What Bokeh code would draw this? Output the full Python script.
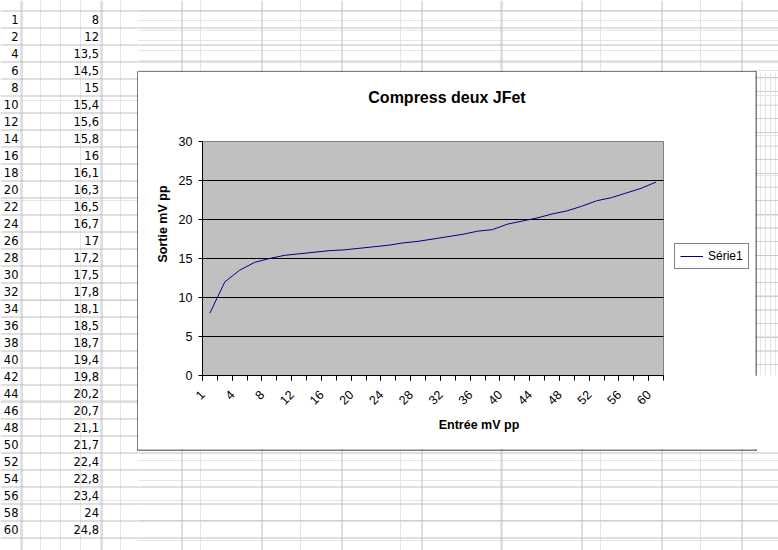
import math
from bokeh.plotting import figure
from bokeh.layouts import row, column
from bokeh.models import (Range1d, FixedTicker, Label, ColumnDataSource, Legend, LegendItem)
from bokeh.core.properties import value
from bokeh.embed import file_html
from bokeh.resources import INLINE

# ---- data (read from the sheet) ----
x_cats = [1, 2, 4, 6, 8, 10, 12, 14, 16, 18, 20, 22, 24, 26, 28, 30,
          32, 34, 36, 38, 40, 42, 44, 46, 48, 50, 52, 54, 56, 58, 60]
y_vals = [8, 12, 13.5, 14.5, 15, 15.4, 15.6, 15.8, 16, 16.1, 16.3, 16.5, 16.7, 17,
          17.2, 17.5, 17.8, 18.1, 18.5, 18.7, 19.4, 19.8, 20.2, 20.7, 21.1, 21.7,
          22.4, 22.8, 23.4, 24, 24.8]
y_ticks = [0, 5, 10, 15, 20, 25, 30]
y_grid_ticks = [5, 10, 15, 20, 25]
title_text = "Compress deux JFet"
x_title = "Entrée mV pp"
y_title = "Sortie mV pp"
series_name = "Série1"

# ---- layout constants (page pixels) ----
PW, PH = 778, 550
FL, FR, FT, FB = 202, 663, 141, 375          # plot area
BL, BR, BT, BB = 137, 756, 71, 450           # chart box (outer edge of border)
IL, IR, IT, IB = BL + 1, BR - 1, BT + 1, BB - 1   # chart box inside
ROW0, ROWH, NROWS = 10, 17, 33               # sheet rows
COL0, COLW, NCOLS = 21, 80, 10               # sheet columns
SHEET_GRID = "#c0c0c0"
FONT = "Liberation Sans"
n = len(x_cats)

# spreadsheet cell texts
cells = ColumnDataSource(dict(
    y=[ROW0 + ROWH * i + 9 for i in range(n)],
    a=[str(v) for v in x_cats],
    b=[("%g" % v).replace(".", ",") for v in y_vals],
    xa=[18] * n,
    xb=[98.5] * n,
))
hl = [ROW0 + ROWH * k for k in range(NROWS)]
vl = [COL0 + COLW * k for k in range(NCOLS)]


def sheet_piece(x0, x1, y0, y1, with_text=False):
    f = figure(width=x1 - x0, height=y1 - y0, x_range=Range1d(x0, x1), y_range=Range1d(y1, y0),
               min_border=0, toolbar_location=None, tools="", output_backend="svg",
               x_axis_location=None, y_axis_location=None, title_location=None)
    f.outline_line_color = None
    f.background_fill_color = "white"
    f.border_fill_color = "white"
    f.quad(left=[0] * len(hl), right=[PW] * len(hl), top=hl, bottom=[y + 1 for y in hl],
           fill_color=SHEET_GRID, line_color=None)
    f.quad(left=vl, right=[x + 1 for x in vl], top=[0] * len(vl), bottom=[PH] * len(vl),
           fill_color=SHEET_GRID, line_color=None)
    # black border of the chart object
    f.quad(left=[BL, IR, BL, BL], right=[IL, BR, BR, BR],
           top=[BT, BT, BT, IB], bottom=[BB, BB, IT, BB],
           fill_color="black", line_color=None)
    if with_text:
        for xc, tc in (("xa", "a"), ("xb", "b")):
            f.text(x=xc, y="y", text=tc, source=cells, text_align="right",
                   text_baseline="middle", text_font=value("DejaVu Sans"),
                   text_font_size="11.5px", text_color="black")
    return f


left_fig = sheet_piece(0, IL, 0, PH, with_text=True)
top_fig = sheet_piece(IL, PW, 0, IT)
right_fig = sheet_piece(IR, PW, IT, IB)
bottom_fig = sheet_piece(IL, PW, IB, PH)

# ---- the chart object ----
unit = (FR - FL) / n
x_end = 0.5 + (IR - FL) / unit
y_end = y_ticks[-1] * (FB - IT) / (FB - FT)

chart = figure(width=IR - IL, height=IB - IT, output_backend="svg", toolbar_location=None,
               tools="", title_location=None,
               x_range=Range1d(0.5, x_end), y_range=Range1d(0, y_end),
               min_border_left=FL - IL, min_border_right=0, min_border_top=0,
               min_border_bottom=IB - FB)
chart.extra_x_ranges = {"px": Range1d(FL, IR)}
chart.extra_y_ranges = {"py": Range1d(FB, IT)}
chart.outline_line_color = None
chart.background_fill_color = "white"
chart.border_fill_color = "white"

# plot area
chart.quad(left=[0.5], right=[n + 0.5], bottom=[y_ticks[0]], top=[y_ticks[-1]],
           fill_color="#c0c0c0", line_color="#808080", line_width=1, level="image")

# gridlines
chart.xgrid.visible = False
gr = chart.ygrid[0]
if "cross_bounds" in gr.properties():
    gr.ticker = FixedTicker(ticks=y_grid_ticks)
    gr.cross_bounds = (0.5, n + 0.5)
    gr.grid_line_color = "black"
    gr.grid_line_width = 1
else:
    gr.visible = False
    chart.segment(x0=[0.5] * len(y_grid_ticks), x1=[n + 0.5] * len(y_grid_ticks),
                  y0=y_grid_ticks, y1=y_grid_ticks, line_color="black", line_width=1)

# series line
src = ColumnDataSource(dict(x=[i + 1 for i in range(n)], y=y_vals))
r = chart.line("x", "y", source=src, line_color="#000080", line_width=1)

# title
chart.add_layout(Label(x=(BL + BR) / 2, y=97, text=title_text, x_range_name="px",
                       y_range_name="py", text_align="center", text_baseline="middle",
                       text_font=FONT, text_font_size="16px", text_font_style="bold",
                       text_color="black"))

# y axis
ya = chart.yaxis[0]
ya.bounds = (y_ticks[0], y_ticks[-1])
ya.ticker = FixedTicker(ticks=y_ticks)
ya.major_tick_out = 4
ya.major_tick_in = 0
ya.minor_tick_line_color = None
ya.major_label_standoff = 6
ya.axis_line_color = "black"
ya.major_tick_line_color = "black"
ya.major_label_text_font = FONT
ya.major_label_text_font_size = "12.5px"
ya.major_label_text_color = "black"
ya.axis_label = y_title
ya.axis_label_standoff = 6
ya.axis_label_text_font = FONT
ya.axis_label_text_font_size = "12.5px"
ya.axis_label_text_font_style = "bold"
ya.axis_label_text_color = "black"

# x axis (category axis, ticks between categories)
xa = chart.xaxis[0]
xa.bounds = (0.5, n + 0.5)
lab_idx = list(range(0, n, 2))
xa.ticker = FixedTicker(ticks=[i + 0.5 for i in lab_idx],
                        minor_ticks=[i + 0.5 for i in range(n + 1)])
xa.major_label_overrides = {i + 0.5: str(x_cats[i]) for i in lab_idx}
xa.major_label_orientation = math.pi / 4
xa.major_tick_out = 5
xa.major_tick_in = 0
xa.minor_tick_out = 5
xa.minor_tick_in = 0
xa.minor_tick_line_color = "black"
xa.major_tick_line_color = "black"
xa.axis_line_color = "black"
xa.major_label_standoff = 12
xa.major_label_text_font = FONT
xa.major_label_text_font_size = "12.5px"
xa.major_label_text_color = "black"
xa.axis_label = x_title
xa.axis_label_standoff = 6
xa.axis_label_text_font = FONT
xa.axis_label_text_font_size = "12.5px"
xa.axis_label_text_font_style = "bold"
xa.axis_label_text_color = "black"

# legend
legend = Legend(items=[LegendItem(label=series_name, renderers=[r])],
                location=(674 - FL, FB - 269), orientation="vertical",
                margin=0, padding=5, spacing=0,
                glyph_width=23, glyph_height=12, label_height=12, label_standoff=5,
                label_text_font=FONT, label_text_font_size="12px", label_text_color="black",
                border_line_color="black", border_line_width=1,
                background_fill_color="white", background_fill_alpha=1.0)
chart.add_layout(legend)

p = row(left_fig, column(top_fig, row(chart, right_fig), bottom_fig))

open("out.html", "w").write(file_html(p, INLINE))
